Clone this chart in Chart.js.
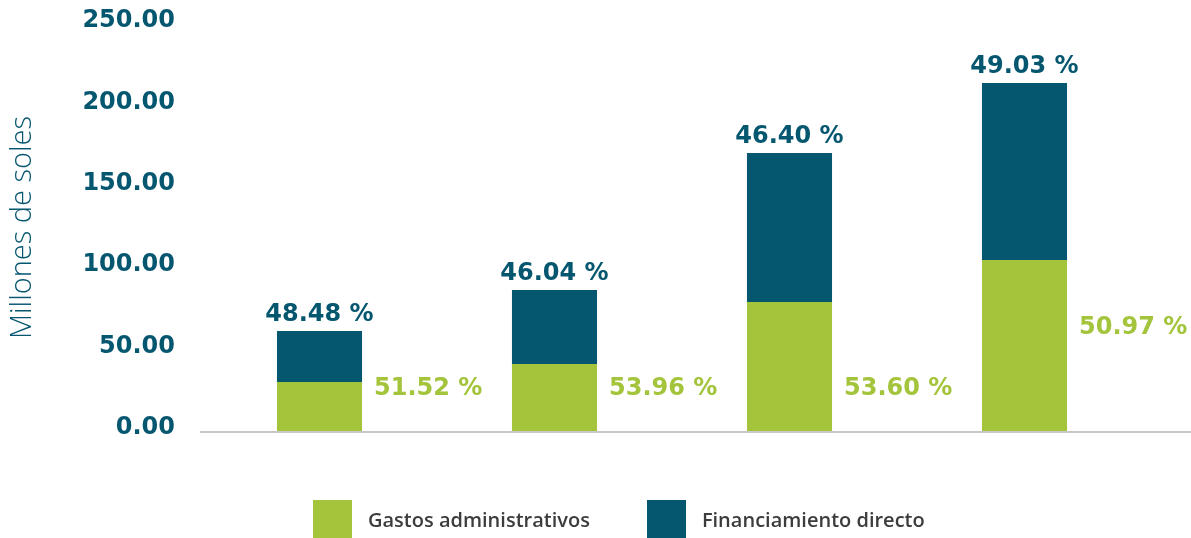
<!DOCTYPE html>
<html>
<head>
<meta charset="utf-8">
<script src="https://cdn.jsdelivr.net/npm/chart.js@4"></script>
<style>
  html, body { margin: 0; padding: 0; background: #ffffff; }
  #wrap { position: relative; width: 1191px; height: 538px; }
  #legend {
    position: absolute; left: 313px; top: 500px; height: 38px;
    display: flex; align-items: center;
    font-family: "Open Sans", sans-serif; font-weight: 600;
    font-size: 20px; color: #3c3c3c;
  }
  #legend .item { display: flex; align-items: center; }
  #legend .box { width: 39px; height: 38px; margin-right: 16px; }
  #legend .item + .item { margin-left: 57px; }
</style>
</head>
<body>
<div id="wrap">
  <canvas id="chart" width="1191" height="538"></canvas>
  <div id="legend"></div>
</div>
<script>
// ---- datos ----
const categorias = ["Periodo 1", "Periodo 2", "Periodo 3", "Periodo 4"];
const gastosAdministrativos = [30.1, 41.2, 79.2, 105.0];
const financiamientoDirecto = [31.3, 45.4, 91.6, 108.8];
const pctFinanciamiento = ["48.48 %", "46.04 %", "46.40 %", "49.03 %"];
const pctGastos = ["51.52 %", "53.96 %", "53.60 %", "50.97 %"];
const yTicks = [0, 50, 100, 150, 200, 250];

// altura (en millones) donde va la etiqueta verde
const anclaPctGastos = [25.8, 25.8, 25.8, 63.3];

const VERDE = "#a3c43b";
const AZUL = "#05566f";

/*
  etiquetas de porcentaje
*/
const etiquetas = {
  id: "etiquetas",
  afterDatasetsDraw(chart) {
    const { ctx, scales: { y } } = chart;
    const azul = chart.getDatasetMeta(1).data;
    ctx.save();
    ctx.font = "bold 24px 'DejaVu Sans'";
    ctx.textBaseline = "middle";
    azul.forEach((bar, i) => {
      ctx.fillStyle = AZUL;
      ctx.textAlign = "center";
      ctx.fillText(pctFinanciamiento[i], bar.x, bar.y - 16);

      ctx.fillStyle = VERDE;
      ctx.textAlign = "left";
      ctx.fillText(pctGastos[i], bar.x + bar.width / 2 + 12, y.getPixelForValue(anclaPctGastos[i]));
    });
    ctx.restore();
  }
};

/*
  linea base gris
*/
const lineaBase = {
  id: "lineaBase",
  afterDatasetsDraw(chart) {
    const { ctx, chartArea } = chart;
    ctx.save();
    ctx.strokeStyle = "#c8c8c8";
    ctx.lineWidth = 2;
    ctx.beginPath();
    ctx.moveTo(chartArea.left - 2, chartArea.bottom + 1);
    ctx.lineTo(chart.width, chartArea.bottom + 1);
    ctx.stroke();
    ctx.restore();
  }
};

const chart = new Chart(document.getElementById("chart"), {
  type: "bar",
  data: {
    labels: categorias,
    datasets: [
      {
        label: "Gastos administrativos",
        data: gastosAdministrativos,
        backgroundColor: VERDE,
        borderWidth: 0,
        barPercentage: 0.362,
        categoryPercentage: 1
      },
      {
        label: "Financiamiento directo",
        data: financiamientoDirecto,
        backgroundColor: AZUL,
        borderWidth: 0,
        barPercentage: 0.362,
        categoryPercentage: 1
      }
    ]
  },
  options: {
    responsive: false,
    animation: false,
    layout: {
      padding: { left: 0, right: 49, top: 24, bottom: 107 }
    },
    plugins: {
      legend: { display: false },
      tooltip: { enabled: false }
    },
    scales: {
      x: {
        stacked: true,
        display: false
      },
      y: {
        stacked: true,
        min: 0,
        max: 250,
        afterBuildTicks(scale) {
          scale.ticks = yTicks.map(v => ({ value: v }));
        },
        afterFit(scale) {
          scale.width = 202;
          // sin relleno extra arriba/abajo por el padding de ticks
          scale.paddingTop = 10;
          scale.paddingBottom = 10;
        },
        grid: { display: false, drawTicks: false },
        border: { display: false },
        ticks: {
          padding: 27,
          labelOffset: -3,
          color: AZUL,
          font: { family: "DejaVu Sans", weight: "bold", size: 24 },
          callback: v => v.toFixed(2)
        },
        title: {
          display: true,
          text: "Millones de soles",
          color: AZUL,
          padding: { top: 5, bottom: 0 },
          font: { family: "Open Sans", weight: 300, size: 29 }
        }
      }
    }
  },
  plugins: [etiquetas, lineaBase]
});

// leyenda
const leyenda = document.getElementById("legend");
chart.data.datasets.forEach(ds => {
  const item = document.createElement("div");
  item.className = "item";
  const box = document.createElement("span");
  box.className = "box";
  box.style.background = ds.backgroundColor;
  const txt = document.createElement("span");
  txt.textContent = ds.label;
  item.appendChild(box);
  item.appendChild(txt);
  leyenda.appendChild(item);
});
</script>
</body>
</html>
